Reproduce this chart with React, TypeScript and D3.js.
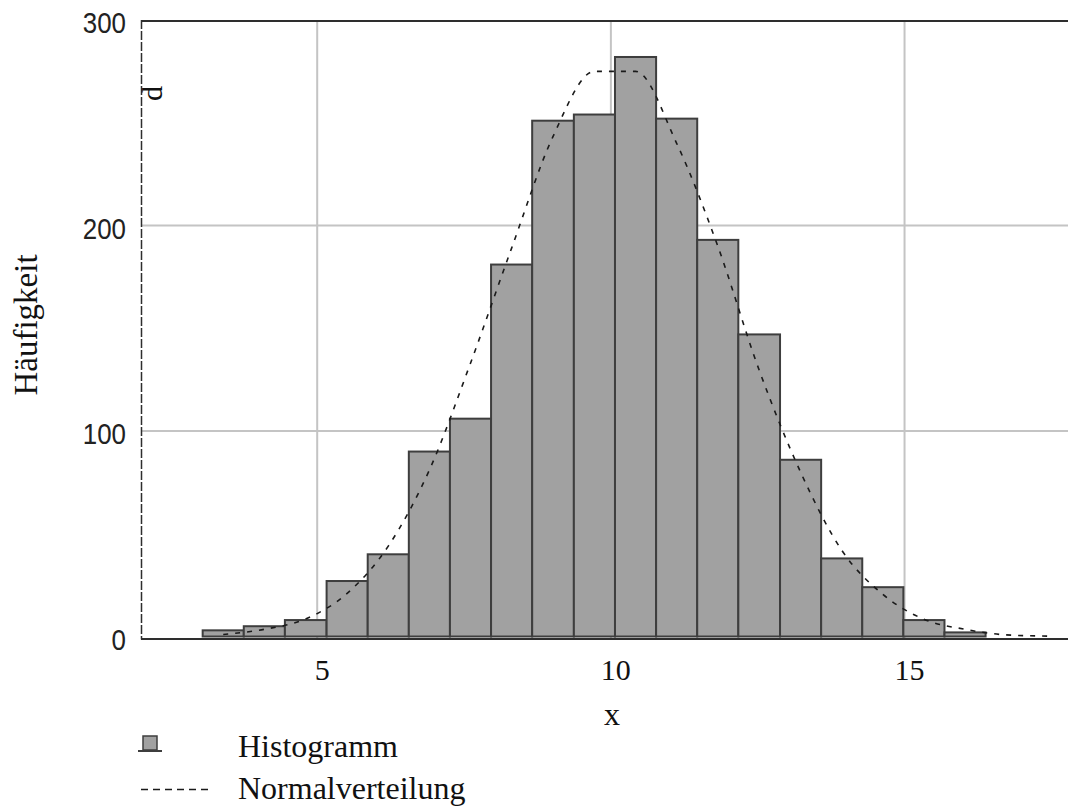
import React, { useEffect, useRef } from "react";
import * as d3 from "d3";

// histogram bin edges (x) and counts
const binEdges = [3.05, 3.75, 4.45, 5.16, 5.86, 6.56, 7.26, 7.96, 8.66, 9.37, 10.07, 10.77, 11.47, 12.17, 12.88, 13.58, 14.28, 14.98, 15.68, 16.38];
const counts = [3, 5, 8, 27, 40, 90, 106, 181, 251, 254, 282, 252, 193, 147, 86, 38, 24, 8, 2];

// dashed normal curve, sampled at the bin centres
const normalX = [3.4, 4.1, 4.8, 5.51, 6.21, 6.91, 7.61, 8.31, 9.01, 9.72, 10.42, 11.12, 11.82, 12.52, 13.23, 13.93, 14.63, 15.33, 16.03, 16.73, 17.43];
const normalY = [1, 3.5, 8.5, 21, 44, 81, 133, 189, 243, 275, 275, 240, 190, 130, 80, 42, 20.5, 8.4, 3.5, 0.8, 0.2];

const xTicks = [5, 10, 15];
const yTicks = [0, 100, 200, 300];
const legendLabels = ["Histogramm", "Normalverteilung"];

const W = 1068;
const H = 811;

const App = () => {
  const svgRef = useRef(null);

  useEffect(() => {
    const svg = d3.select(svgRef.current);
    svg.selectAll("*").remove();

    const x = d3.scaleLinear().domain([2, 17.8]).range([141, 1069]);
    const y = d3.scaleLinear().domain([0, 300]).range([636.5, 20]);
    const left = 141;
    const right = W + 2;

    svg.append("rect").attr("width", W).attr("height", H).attr("fill", "#fff");

    // grid
    const grid = svg.append("g").attr("stroke", "#c4c4c4").attr("stroke-width", 2);
    grid.selectAll(".vg").data(xTicks).join("line")
      .attr("x1", (d) => x(d)).attr("x2", (d) => x(d))
      .attr("y1", y(300)).attr("y2", y(0) + 2);
    grid.selectAll(".hg").data(yTicks.filter((d) => d > 0 && d < 300)).join("line")
      .attr("x1", left).attr("x2", right)
      .attr("y1", (d) => y(d)).attr("y2", (d) => y(d));

    // bars
    svg.append("g").selectAll("rect").data(counts).join("rect")
      .attr("x", (d, i) => x(binEdges[i]))
      .attr("width", (d, i) => x(binEdges[i + 1]) - x(binEdges[i]))
      .attr("y", (d) => y(d))
      .attr("height", (d) => y(0) - y(d))
      .attr("fill", "#a1a1a1")
      .attr("stroke", "#3e3e3e")
      .attr("stroke-width", 2);

    // normal curve
    const line = d3.line<number>()
      .x((d, i) => x(normalX[i]))
      .y((d) => y(d))
      .curve(d3.curveMonotoneX);
    svg.append("path")
      .attr("d", line(normalY))
      .attr("fill", "none")
      .attr("stroke", "#1a1a1a")
      .attr("stroke-width", 1.6)
      .attr("stroke-dasharray", "5,7");

    // frame
    svg.append("line").attr("x1", left).attr("x2", right).attr("y1", y(300) + 1).attr("y2", y(300) + 1)
      .attr("stroke", "#2e2e2e").attr("stroke-width", 2);
    svg.append("line").attr("x1", left).attr("x2", right).attr("y1", y(0) + 2.5).attr("y2", y(0) + 2.5)
      .attr("stroke", "#2e2e2e").attr("stroke-width", 2);
    svg.append("line").attr("x1", left + 0.5).attr("x2", left + 0.5).attr("y1", y(300)).attr("y2", y(0) + 3)
      .attr("stroke", "#2e2e2e").attr("stroke-width", 1.5).attr("stroke-dasharray", "9,2");

    // y tick labels (narrow sans, squeezed to the reference width)
    svg.append("g").selectAll("text").data(yTicks).join("text")
      .attr("x", (d) => 126 - String(d).length * 14.4)
      .attr("y", (d) => y(d) + 13)
      .attr("textLength", (d) => String(d).length * 14.4)
      .attr("lengthAdjust", "spacingAndGlyphs")
      .attr("font-family", "'Liberation Sans', Arial, sans-serif")
      .attr("font-size", 30)
      .attr("fill", "#222")
      .text((d) => d);

    // x tick labels
    svg.append("g").selectAll("text").data(xTicks).join("text")
      .attr("x", (d) => x(d) + 5)
      .attr("y", y(0) + 43)
      .attr("text-anchor", "middle")
      .attr("font-family", "'Liberation Serif', serif")
      .attr("font-size", 30)
      .attr("fill", "#111")
      .text((d) => d);

    // axis titles
    svg.append("text")
      .attr("x", 612).attr("y", 725)
      .attr("text-anchor", "middle")
      .attr("font-family", "'Liberation Serif', serif")
      .attr("font-size", 32)
      .attr("fill", "#111")
      .text("x");
    svg.append("text")
      .attr("transform", "translate(37,325) rotate(-90)")
      .attr("text-anchor", "middle")
      .attr("font-family", "'Liberation Serif', serif")
      .attr("font-size", 33)
      .attr("fill", "#111")
      .text("Häufigkeit");

    // stray glyph near the y axis
    svg.append("text")
      .attr("transform", "translate(162,101) rotate(-90)")
      .attr("font-family", "'Liberation Serif', serif")
      .attr("font-size", 30)
      .attr("fill", "#111")
      .text("d");

    // legend
    const lg = svg.append("g");
    lg.append("rect").attr("x", 143).attr("y", 736).attr("width", 14).attr("height", 14)
      .attr("fill", "#a1a1a1").attr("stroke", "#3e3e3e").attr("stroke-width", 1.5);
    lg.append("line").attr("x1", 138).attr("x2", 162).attr("y1", 751).attr("y2", 751)
      .attr("stroke", "#3e3e3e").attr("stroke-width", 2);
    lg.append("line").attr("x1", 141).attr("x2", 208).attr("y1", 789.5).attr("y2", 789.5)
      .attr("stroke", "#1a1a1a").attr("stroke-width", 1.5).attr("stroke-dasharray", "7,5");
    lg.selectAll("text").data(legendLabels).join("text")
      .attr("x", 238)
      .attr("y", (d, i) => 757 + i * 42)
      .attr("font-family", "'Liberation Serif', serif")
      .attr("font-size", 32)
      .attr("fill", "#111")
      .text((d) => d);
  }, []);

  return (
    <svg
      ref={svgRef}
      width={W}
      height={H}
      style={{ position: "absolute", left: 0, top: 0, display: "block" }}
    />
  );
};

export default App;
